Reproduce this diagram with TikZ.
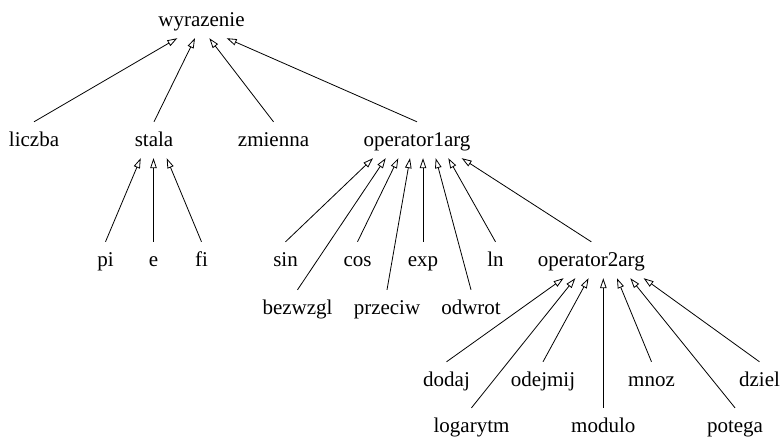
\documentclass[tikz,border=0pt]{standalone}
\usepackage{fontspec}
\setmainfont{Liberation Serif}
\newfontfamily\timesfont{Liberation Serif}
\usetikzlibrary{arrows.meta}
\begin{document}
\begin{tikzpicture}[x=1pt,y=-1pt,
  cls/.style={inner sep=0pt, minimum height=36pt, text height=14.5pt, text depth=1.5pt,
              font=\timesfont\fontsize{21}{25}\selectfont},
  inh/.style={line width=0.8pt, -{Triangle[open,length=10pt,width=6.5pt,line width=0.8pt]}}]
\useasboundingbox (0,0) rectangle (781,439);
% row 0
\node[cls] (wyr) at (201.5,20) {wyrazenie};
% row 1
\node[cls] (liczba) at (34,140) {liczba};
\node[cls] (stala) at (154,140) {stala};
\node[cls] (zmienna) at (273.5,140) {zmienna};
\node[cls] (op1) at (417,140) {operator1arg};
% row 2
\node[cls] (pi) at (105.5,260) {pi};
\node[cls] (e) at (153.5,260) {e};
\node[cls] (fi) at (201.5,260) {fi};
\node[cls] (sin) at (285.5,260) {sin};
\node[cls] (cos) at (357.5,260) {cos};
\node[cls] (exp) at (423,260) {exp};
\node[cls] (ln) at (495.5,260) {ln};
\node[cls] (op2) at (591.3,260) {operator2arg};
% row 2b
\node[cls] (bezwzgl) at (297.5,308) {bezwzgl};
\node[cls] (przeciw) at (387,308) {przeciw};
\node[cls] (odwrot) at (471,308) {odwrot};
% row 3
\node[cls] (dodaj) at (446.5,380) {dodaj};
\node[cls] (odejmij) at (543,380) {odejmij};
\node[cls] (mnoz) at (651.5,380) {mnoz};
\node[cls] (dziel) at (759.5,380) {dziel};
% row 4
\node[cls] (logarytm) at (471.5,426) {logarytm};
\node[cls] (modulo) at (603.3,426) {modulo};
\node[cls] (potega) at (735,426) {potega};
% edges to wyrazenie
\draw[inh] (liczba.north) -- ([xshift=-24.2pt]wyr.south);
\draw[inh] (stala.north) -- ([xshift=-6.5pt]wyr.south);
\draw[inh] (zmienna.north) -- ([xshift=7.8pt]wyr.south);
\draw[inh] (op1.north) -- ([xshift=25.2pt]wyr.south);
% edges to stala
\draw[inh] (pi.north) -- ([xshift=-13.3pt]stala.south);
\draw[inh] (e.north) -- ([xshift=-0.5pt]stala.south);
\draw[inh] (fi.north) -- ([xshift=12.7pt]stala.south);
% edges to operator1arg
\draw[inh] (sin.north) -- ([xshift=-44pt]op1.south);
\draw[inh] (bezwzgl.north) -- ([xshift=-31.3pt]op1.south);
\draw[inh] (cos.north) -- ([xshift=-18.7pt]op1.south);
\draw[inh] (przeciw.north) -- ([xshift=-7pt]op1.south);
\draw[inh] (exp.north) -- ([xshift=6pt]op1.south);
\draw[inh] (odwrot.north) -- ([xshift=18.7pt]op1.south);
\draw[inh] (ln.north) -- ([xshift=31.3pt]op1.south);
\draw[inh] (op2.north) -- ([xshift=44.7pt]op1.south);
% edges to operator2arg
\draw[inh] (dodaj.north) -- ([xshift=-27.7pt]op2.south);
\draw[inh] (logarytm.north) -- ([xshift=-16pt]op2.south);
\draw[inh] (odejmij.north) -- ([xshift=-2.7pt]op2.south);
\draw[inh] (modulo.north) -- ([xshift=12pt]op2.south);
\draw[inh] (mnoz.north) -- ([xshift=25.7pt]op2.south);
\draw[inh] (potega.north) -- ([xshift=39pt]op2.south);
\draw[inh] (dziel.north) -- ([xshift=52.3pt]op2.south);
\end{tikzpicture}
\end{document}
